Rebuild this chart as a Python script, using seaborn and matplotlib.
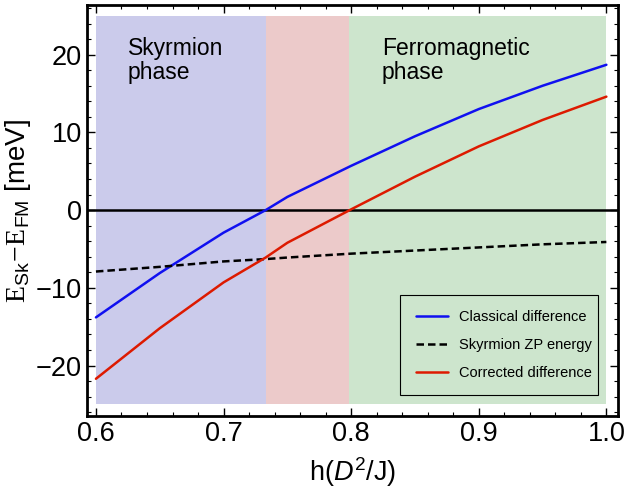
import matplotlib.pyplot as plt
import numpy as np
import pandas as pd
import seaborn as sns

# values
h = [0.60, 0.65, 0.70, 0.733, 0.75, 0.80, 0.85, 0.90, 0.95, 1.00]
classical = [-13.8, -8.1, -2.9, 0.0, 1.7, 5.7, 9.5, 13.0, 16.0, 18.7]
zp_energy = [-7.9, -7.3, -6.6, -6.3, -6.1, -5.6, -5.2, -4.8, -4.4, -4.1]
corrected = [-21.7, -15.2, -9.3, -6.1, -4.2, 0.1, 4.3, 8.2, 11.6, 14.6]

phase_edges = [0.60, 0.733, 0.798, 1.00]
phase_colors = ['#cbcbeb', '#eccaca', '#cde5cd']
labels = ['Classical difference', 'Skyrmion ZP energy', 'Corrected difference']

df = pd.DataFrame({'h': h, labels[0]: classical, labels[1]: zp_energy, labels[2]: corrected})
long = df.melt(id_vars='h', var_name='curve', value_name='E')

sns.set_style('ticks')
plt.rcParams['font.family'] = ['Liberation Sans', 'DejaVu Sans']
plt.rcParams['mathtext.fontset'] = 'custom'
plt.rcParams['mathtext.rm'] = 'Liberation Serif'
plt.rcParams['mathtext.sf'] = 'Liberation Sans'
plt.rcParams['mathtext.it'] = 'Liberation Sans:italic'
for k in ['text.color', 'axes.labelcolor', 'xtick.color', 'ytick.color', 'axes.edgecolor']:
    plt.rcParams[k] = 'black'

fig = plt.figure(figsize=(6.26, 4.93), dpi=100)
ax = fig.add_axes([0.139, 0.156, 0.848, 0.834])

for i, c in enumerate(phase_colors):
    ax.fill_between([phase_edges[i], phase_edges[i + 1]], -25, 25, color=c, lw=0, zorder=0)

ax.axhline(0, color='black', lw=1.8, zorder=1)

sns.lineplot(data=long, x='h', y='E', hue='curve', style='curve',
             palette={labels[0]: '#1010f0', labels[1]: 'black', labels[2]: '#dd1a00'},
             dashes={labels[0]: '', labels[1]: (3, 1.6), labels[2]: ''},
             lw=1.8, ax=ax, zorder=2)

ax.text(0.625, 19.2, 'Skyrmion\nphase', fontsize=16.5, va='center', linespacing=1.05)
ax.text(0.824, 19.2, 'Ferromagnetic\nphase', fontsize=16.5, va='center', linespacing=1.05)

ax.set_xlim(0.593, 1.009)
ax.set_ylim(-26.5, 26.4)
ax.set_xticks([0.6, 0.7, 0.8, 0.9, 1.0])
ax.set_xticklabels(['0.6', '0.7', '0.8', '0.9', '1.0'])
ax.set_yticks([-20, -10, 0, 10, 20])
ax.set_yticklabels(['\u221220', '\u221210', '0', '10', '20'])
ax.minorticks_on()
ax.tick_params(which='both', direction='in', top=True, right=True, labelsize=19.5)
ax.tick_params(which='major', length=6, width=1)
ax.tick_params(which='minor', length=3, width=0.8)
for s in ax.spines.values():
    s.set_linewidth(2)

ax.set_xlabel(r'h($D^{\mathsf{2}}$/J)', fontsize=19.5, labelpad=6)
ax.set_ylabel(r'$\mathrm{E}_{\mathsf{Sk}}\!-\!\mathrm{E}_{\mathsf{FM}}$ [meV]', fontsize=20, labelpad=2)

leg = ax.legend(loc='lower left', bbox_to_anchor=(0.59, 0.051, 0.372, 0.241), mode='expand',
                borderaxespad=0, fontsize=10.5, frameon=True, fancybox=False, edgecolor='black',
                facecolor=phase_colors[2], framealpha=1, handlelength=2.2, handletextpad=0.8,
                borderpad=1.05, labelspacing=0.95)
leg.get_frame().set_linewidth(0.8)
for line in leg.get_lines():
    line.set_linewidth(1.8)

fig.savefig('out.png', dpi=100)
